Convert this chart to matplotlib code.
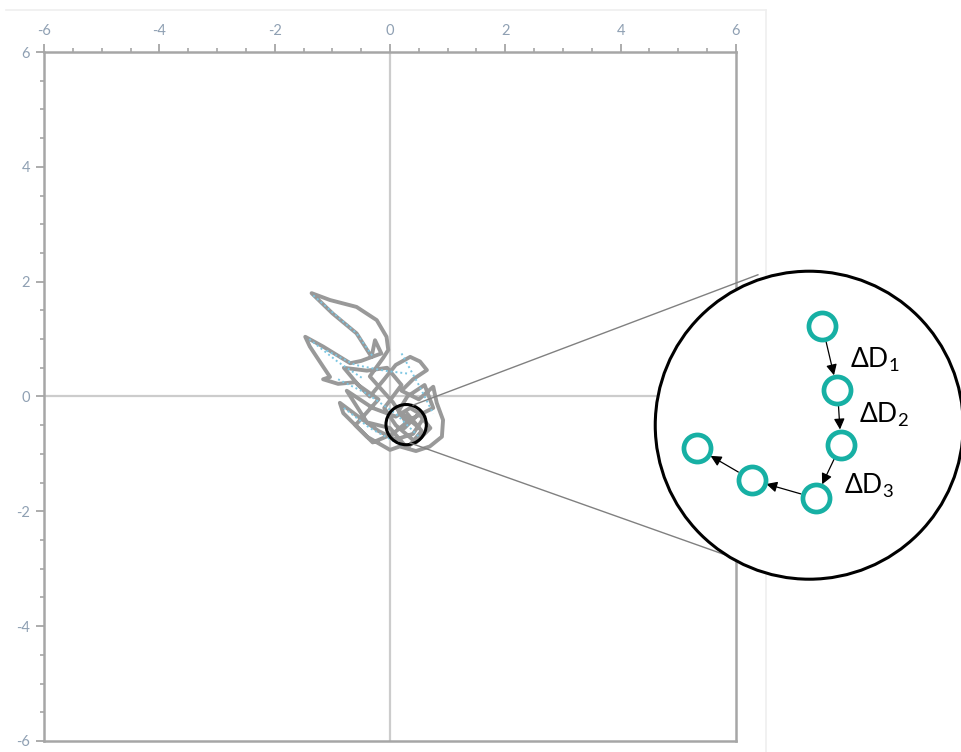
import numpy as np
import matplotlib.pyplot as plt
from matplotlib.patches import Ellipse
from matplotlib.lines import Line2D

plt.rcParams['font.family'] = ['Lato', 'DejaVu Sans']
plt.rcParams['mathtext.default'] = 'regular'
plt.rcParams['axes.unicode_minus'] = False

# gray trajectory (data units)
traj_x = [0.28, 0.05, -0.35, -0.12, -0.03, -0.06, -0.23, -0.58, -1.04, -1.36, -1.0, -0.58,
          -0.32, -0.26, -0.15, -0.5, -0.69, -1.16, -1.47, -1.39, -1.16, -1.04, -1.16, -0.9,
          -0.6, -0.35, -0.1, 0.1, 0.35, 0.52, 0.64, 0.4, 0.2, 0.5, 0.75, 0.81, 0.92, 0.90,
          0.69, 0.45, 0.17, 0.0, -0.40, -0.81, -0.87, -0.55, -0.2, 0.1, 0.4, 0.6, 0.35, 0.1,
          -0.3, -0.75, -0.4, 0.0, 0.3, 0.55, 0.3, 0.25, 0.5, 0.7, 0.45, 0.1, -0.1, 0.2,
          -0.05, -0.4, -0.8, -0.55, -0.2, -0.6, -0.3, 0.05, 0.35, 0.75, 0.6, 0.3, 0.15, 0.45]
traj_y = [-0.45, -0.1, 0.35, 0.67, 0.81, 1.04, 1.33, 1.56, 1.68, 1.80, 1.45, 1.10,
          0.69, 0.98, 0.75, 0.62, 0.58, 0.87, 1.04, 0.87, 0.52, 0.34, 0.30, 0.22,
          0.25, 0.0, 0.3, 0.55, 0.69, 0.61, 0.46, 0.3, 0.1, -0.05, 0.17, -0.11, -0.41, -0.70,
          -0.87, -0.95, -0.87, -0.93, -0.70, -0.29, -0.11, -0.35, -0.6, -0.75, -0.65, -0.35, -0.2, -0.35,
          -0.2, 0.1, -0.45, -0.55, -0.9, -0.6, -0.3, -0.55, -0.3, -0.55, -0.8, -0.5, -0.2, 0.2,
          0.5, 0.45, 0.5, 0.2, -0.05, -0.5, -0.8, -0.65, -0.4, -0.2, 0.2, 0.0, -0.25, -0.5]

# light blue dotted segments
dot_x = [[-1.33, -0.58, -0.30], [-1.1, -0.6, -0.1, 0.3], [-0.8, -0.35, 0.2],
         [-0.9, -0.4, 0.1, 0.5], [0.2, 0.5, 0.75], [-1.4, -0.9, -0.45]]
dot_y = [[1.76, 1.10, 0.70], [0.8, 0.55, 0.45, 0.4], [-0.2, -0.55, -0.85],
         [0.3, 0.05, -0.3, -0.7], [0.75, 0.2, -0.3], [1.0, 0.6, 0.3]]

# magnified view points
zoom_x = [7.50, 7.76, 7.82, 7.38, 6.27, 5.33]
zoom_y = [1.22, 0.11, -0.84, -1.77, -1.45, -0.90]
labels = ['ΔD$_{\\mathregular{1}}$', 'ΔD$_{\\mathregular{2}}$', 'ΔD$_{\\mathregular{3}}$']
label_x = [7.98, 8.13, 7.87]
label_y = [0.64, -0.32, -1.56]

teal = '#17b0a4'
axis_gray = '#a6a6a6'
tick_color = '#8fa0b3'

fig = plt.figure(figsize=(9.62, 7.52), dpi=100)
fig.patch.set_facecolor('white')
# faint outer frame, behind the axes
fig.add_artist(Line2D([0.006, 0.796], [0.987, 0.987], color='#efefef', lw=1.2, zorder=-1))
fig.add_artist(Line2D([0.796, 0.796], [0.0, 0.987], color='#efefef', lw=1.2, zorder=-1))

ax = fig.add_axes([0.04574, 0.01463, 0.71933, 0.91622])
ax.set_xlim(-6, 6)
ax.set_ylim(-6, 6)
ax.patch.set_alpha(0)

for s in ax.spines.values():
    s.set_color(axis_gray)
    s.set_linewidth(1.8)

ax.xaxis.tick_top()
ax.yaxis.tick_left()
ax.set_xticks(np.arange(-6, 7, 2))
ax.set_yticks(np.arange(-6, 7, 2))
ax.set_xticks(np.arange(-6, 6.1, 0.5), minor=True)
ax.set_yticks(np.arange(-6, 6.1, 0.5), minor=True)
ax.tick_params(which='major', length=6, width=1.3, color=axis_gray, labelsize=10.5,
               labelcolor=tick_color, pad=4)
ax.tick_params(which='minor', length=3, width=1.2, color=axis_gray)

ax.axhline(0, color='#cccccc', lw=1.6, zorder=1)
ax.axvline(0, color='#cccccc', lw=1.6, zorder=1)

ax.plot(traj_x, traj_y, color='#999999', lw=2.8, solid_joinstyle='round', zorder=2)
for xs, ys in zip(dot_x, dot_y):
    ax.plot(xs, ys, color='#7cc6e2', lw=1.4, ls=(0, (1, 1.5)), zorder=3)

# small circle and the magnified circle
ax.add_patch(Ellipse((0.28, -0.49), 0.70, 0.70, fill=False, ec='black', lw=2.2, zorder=4))
ax.plot([0.40, 6.38], [-0.15, 2.12], color='#808080', lw=1.0, clip_on=False, zorder=4)
ax.plot([0.35, 6.38], [-0.81, -2.96], color='#808080', lw=1.0, clip_on=False, zorder=4)
ax.add_patch(Ellipse((7.27, -0.50), 2 * 154 / 57.67, 2 * 154 / 57.42, fill=True, fc='white',
                     ec='black', lw=2.2, clip_on=False, zorder=5))

ax.plot(zoom_x, zoom_y, 'o', ms=19.5, mfc='white', mec=teal, mew=3.4, ls='none',
        clip_on=False, zorder=7)
for i in range(len(zoom_x) - 1):
    ax.annotate('', xy=(zoom_x[i + 1], zoom_y[i + 1]), xytext=(zoom_x[i], zoom_y[i]),
                arrowprops=dict(arrowstyle='-|>', color='black', lw=0.9, shrinkA=11, shrinkB=11,
                                mutation_scale=16),
                annotation_clip=False, zorder=6)
for t, lx, ly in zip(labels, label_x, label_y):
    ax.text(lx, ly, t, fontsize=19, ha='left', va='center', color='black', clip_on=False, zorder=8)

fig.savefig('out.png', dpi=100)
